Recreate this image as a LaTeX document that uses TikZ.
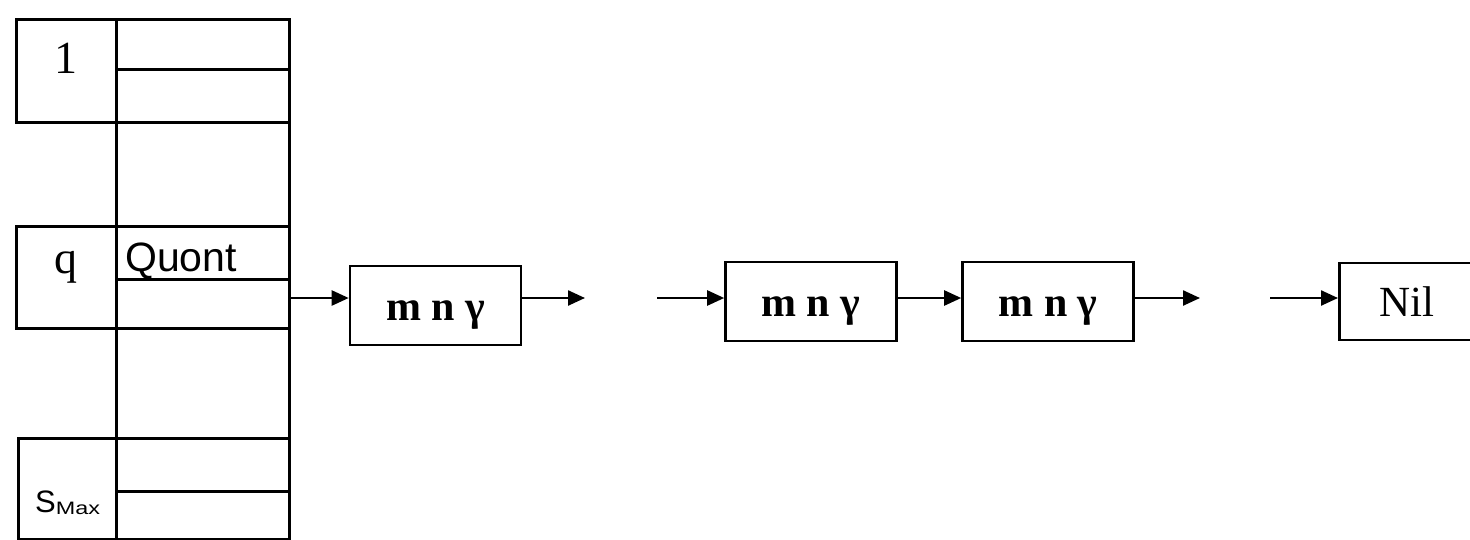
\documentclass[tikz,border=0pt]{standalone}
\usepackage{fontspec}
\usepackage{graphicx}
\setmainfont{Liberation Serif}
\newfontfamily\arialf{Liberation Sans}
\usetikzlibrary{arrows.meta}
\begin{document}
\begin{tikzpicture}[x=1pt,y=-1pt,
  cell/.style={draw, line width=2.6pt, inner sep=0pt, anchor=north west},
  keyfont/.style={font=\fontsize{46}{46}\selectfont},
  lnk/.style={draw, line width=2.6pt, minimum width=171pt, minimum height=79pt, inner sep=0pt,
    text height=30pt, text depth=0pt, font=\fontsize{42}{42}\selectfont\bfseries},
  arr/.style={line width=2.4pt, -{Triangle[length=17pt,width=15pt]}}]
\useasboundingbox (0,0) rectangle (1470,539);
\clip (0,0) rectangle (1470,539);
% hash table column
\node[cell, keyfont, minimum width=100pt, minimum height=103pt, text height=6pt, text depth=0pt] (k1) at (15,18) {1};
\node[cell, minimum width=173pt, minimum height=50pt] (r1a) at (115,18) {};
\node[cell, minimum width=173pt, minimum height=53pt] (r1b) at (115,68) {};
\node[cell, minimum width=173pt, minimum height=104pt] (g1) at (115,121) {};
\node[cell, keyfont, minimum width=100pt, minimum height=102pt, text height=0pt, text depth=7pt] (kq) at (15,225) {q};
\node[cell, minimum width=173pt, minimum height=53pt, text width=155pt, inner xsep=9pt, align=left,
  text height=36.4pt, text depth=0pt, font=\arialf\fontsize{41}{41}\selectfont] (rqa) at (115,225) {Quont};
\node[cell, minimum width=173pt, minimum height=49pt] (rqb) at (115,278) {};
\node[cell, minimum width=173pt, minimum height=110pt] (g2) at (115,327) {};
\node[cell, minimum width=98pt, minimum height=101pt] (ks) at (17,437) {};
\node[cell, minimum width=173pt, minimum height=53pt] (rsa) at (115,437) {};
\node[cell, minimum width=173pt, minimum height=48pt] (rsb) at (115,490) {};
\node[font=\arialf\fontsize{31}{31}\selectfont, inner sep=0pt, anchor=base west] (smax) at (35,512)
  {S\raisebox{-2pt}{\scalebox{1.3}[1]{\fontsize{18}{18}\selectfont Max}}};
% linked list
\node[lnk] (b1) at (435.5,305.5) {m n γ};
\node[lnk] (b2) at (811,301.5) {m n γ};
\node[lnk] (b3) at (1048,301.5) {m n γ};
\node[draw, line width=2.6pt, minimum height=77pt, anchor=west, text width=130pt, inner xsep=40pt, align=left,
  font=\fontsize{43}{43}\selectfont] (nil) at (1338,301.5) {Nil};
\coordinate (o1) at (585,298);
\coordinate (i2) at (657,298);
\coordinate (o3) at (1200,298);
\coordinate (i4) at (1270,298);
\draw[arr] (rqb.east |- o1) -- (b1.west |- o1);
\draw[arr] (b1.east |- o1) -- (o1);
\draw[arr] (i2) -- (b2.west |- i2);
\draw[arr] (b2.east |- i2) -- (b3.west |- i2);
\draw[arr] (b3.east |- o3) -- (o3);
\draw[arr] (i4) -- (nil.west |- i4);
\end{tikzpicture}
\end{document}
